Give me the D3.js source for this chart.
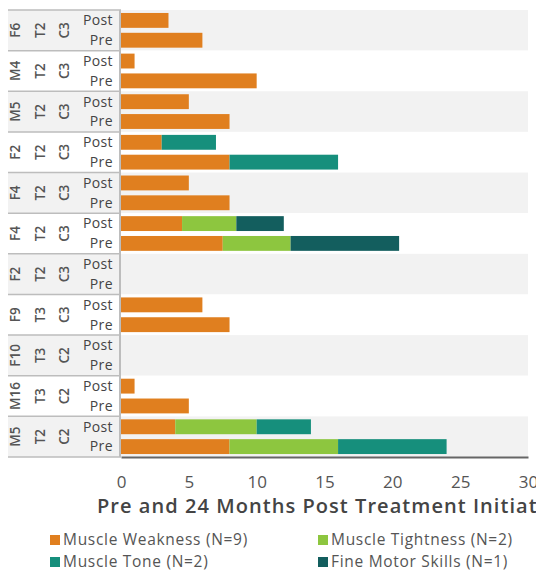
<!DOCTYPE html>
<html>
<head>
<meta charset="utf-8">
<script src="https://cdn.jsdelivr.net/npm/d3@7"></script>
<style>
  body { margin: 0; background: #fff; overflow: hidden; }
  svg { display: block; font-family: "Open Sans", "Noto Sans", sans-serif; }
</style>
</head>
<body>
<svg id="chart" width="536" height="574"></svg>
<script>
// patients, spinal levels and periods
const patients = ['F6', 'M4', 'M5', 'F2', 'F4', 'F4', 'F2', 'F9', 'F10', 'M16', 'M5'];
const tLevels = ['T2', 'T2', 'T2', 'T2', 'T2', 'T2', 'T2', 'T3', 'T3', 'T3', 'T2'];
const cLevels = ['C3', 'C3', 'C3', 'C3', 'C3', 'C3', 'C3', 'C3', 'C2', 'C2', 'C2'];
const periods = ['Post', 'Pre'];

// values per row, in order Post, Pre for each patient
const weakness  = [3.5, 6, 1, 10, 5, 8, 3, 8, 5, 8, 4.5, 7.5, 0, 0, 6, 8, 0, 0, 1, 5, 4, 8];
const tightness = [0, 0, 0, 0, 0, 0, 0, 0, 0, 0, 4, 5, 0, 0, 0, 0, 0, 0, 0, 0, 6, 8];
const tone      = [0, 0, 0, 0, 0, 0, 4, 8, 0, 0, 0, 0, 0, 0, 0, 0, 0, 0, 0, 0, 4, 8];
const fineMotor = [0, 0, 0, 0, 0, 0, 0, 0, 0, 0, 3.5, 8, 0, 0, 0, 0, 0, 0, 0, 0, 0, 0];

const seriesNames = ['Muscle Weakness (N=9)', 'Muscle Tightness (N=2)', 'Muscle Tone (N=2)', 'Fine Motor Skills (N=1)'];
const seriesColors = ['#e07f1f', '#8dc63f', '#168f7c', '#135e5e'];
const xTicks = [0, 5, 10, 15, 20, 25, 30];
const xTitle = 'Pre and 24 Months Post Treatment Initiation';

const keys = ['weakness', 'tightness', 'tone', 'fine'];
let rows = [];
patients.forEach(function(p, i) {
  periods.forEach(function(per, j) {
    let k = i * 2 + j;
    rows.push({group: i, period: per, weakness: weakness[k], tightness: tightness[k], tone: tone[k], fine: fineMotor[k]});
  });
});

const svg = d3.select('#chart');
const plotLeft = 121, plotRight = 528, plotTop = 10, plotBottom = 457;

const x = d3.scaleLinear().domain([0, 30]).range([plotLeft, plotRight]);
const yGroup = d3.scaleBand().domain(d3.range(patients.length)).range([plotTop, plotBottom]);
const yInner = d3.scaleBand().domain(periods).range([0, yGroup.bandwidth()]).paddingInner(0.25).paddingOuter(0.15);

// alternating group backgrounds
svg.append('g').selectAll('rect')
  .data(d3.range(patients.length))
  .join('rect')
  .attr('x', 8)
  .attr('y', d => yGroup(d))
  .attr('width', plotRight - 8)
  .attr('height', yGroup.bandwidth())
  .attr('fill', d => d % 2 == 0 ? '#f2f2f2' : '#ffffff');

// stacked bars
const stack = d3.stack().keys(keys);
const stacked = stack(rows);
svg.append('g').selectAll('g')
  .data(stacked)
  .join('g')
  .attr('fill', (d, i) => seriesColors[i])
  .selectAll('rect')
  .data(d => d.filter(s => s[1] - s[0] > 0))
  .join('rect')
  .attr('x', d => x(d[0]))
  .attr('y', d => yGroup(d.data.group) + yInner(d.data.period))
  .attr('width', d => x(d[1]) - x(d[0]))
  .attr('height', yInner.bandwidth());

// row label area
const labels = svg.append('g');
patients.forEach(function(p, i) {
  let cy = yGroup(i) + yGroup.bandwidth() / 2;
  [[15, p], [40, tLevels[i]], [64, cLevels[i]]].forEach(function(c) {
    labels.append('text')
      .attr('transform', 'translate(' + c[0] + ',' + cy + ') rotate(-90)')
      .attr('text-anchor', 'middle')
      .attr('dy', '0.35em')
      .attr('font-size', 13.5)
      .attr('font-weight', 600)
      .attr('fill', '#555')
      .text(c[1]);
  });
  periods.forEach(function(per) {
    labels.append('text')
      .attr('x', 113)
      .attr('y', yGroup(i) + yInner(per) + yInner.bandwidth() / 2)
      .attr('dy', '0.35em')
      .attr('text-anchor', 'end')
      .attr('font-size', 14)
      .attr('letter-spacing', 0.4)
      .attr('fill', '#444')
      .text(per);
  });
});

// separators in label area
labels.selectAll('line.sep')
  .data(d3.range(patients.length + 1))
  .join('line')
  .attr('class', 'sep')
  .attr('x1', 8)
  .attr('x2', plotLeft)
  .attr('y1', d => d < patients.length ? yGroup(d) : plotBottom)
  .attr('y2', d => d < patients.length ? yGroup(d) : plotBottom)
  .attr('stroke', '#bdbdbd')
  .attr('stroke-width', 1.5);
labels.append('line')
  .attr('x1', plotLeft - 1).attr('x2', plotLeft - 1)
  .attr('y1', plotTop).attr('y2', plotBottom)
  .attr('stroke', '#bdbdbd').attr('stroke-width', 2);

// x axis
const xAxis = svg.append('g')
  .attr('transform', 'translate(0,' + plotBottom + ')')
  .call(d3.axisBottom(x).tickValues(xTicks).tickSize(0).tickPadding(19));
xAxis.select('.domain').attr('stroke', '#666').attr('stroke-width', 2);
xAxis.selectAll('text').attr('font-size', 17).attr('fill', '#555').attr('font-family', '"Open Sans", sans-serif');

svg.append('text')
  .attr('x', 97)
  .attr('y', 513)
  .attr('font-size', 20)
  .attr('font-weight', 600)
  .attr('letter-spacing', 1.05)
  .attr('fill', '#444')
  .text(xTitle);

// legend
const legend = svg.append('g');
seriesNames.forEach(function(name, i) {
  let lx = i % 2 == 0 ? 50 : 318;
  let ly = i < 2 ? 540 : 562;
  legend.append('rect')
    .attr('x', lx).attr('y', ly - 5)
    .attr('width', 10).attr('height', 10)
    .attr('fill', seriesColors[i]);
  legend.append('text')
    .attr('x', lx + 13).attr('y', ly)
    .attr('dy', '0.35em')
    .attr('font-size', 15.5)
    .attr('letter-spacing', 0.7)
    .attr('fill', '#555')
    .text(name);
});
</script>
</body>
</html>
